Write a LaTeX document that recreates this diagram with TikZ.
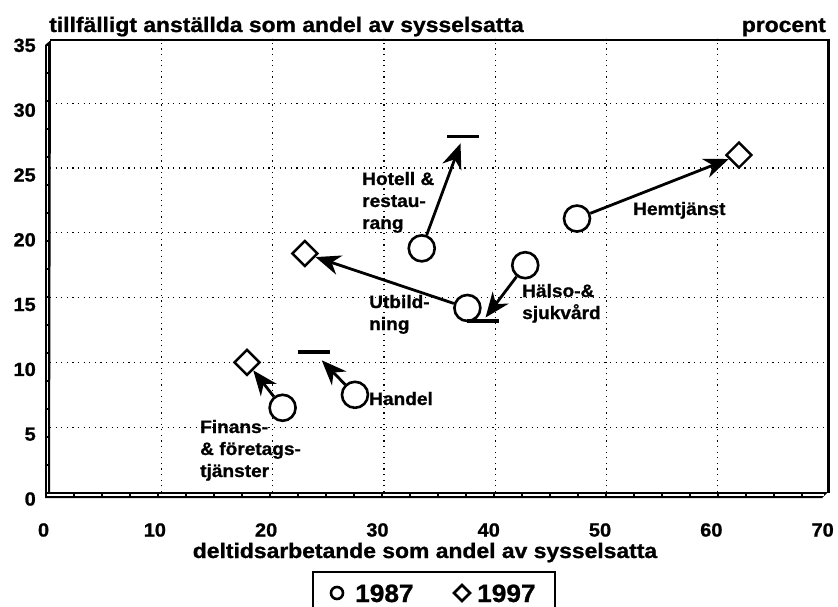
\documentclass[tikz,border=0pt]{standalone}
\usepackage{fontspec}
\setmainfont{Liberation Sans}[BoldFeatures={FakeBold=1}]
\usetikzlibrary{arrows.meta,shapes.geometric}
\begin{document}
\begin{tikzpicture}[x=1pt, y=1pt,
  yr87/.style={circle, draw, line width=2.6pt, fill=white, minimum size=26pt, inner sep=0pt},
  yr97/.style={diamond, draw, line width=2.4pt, fill=white, minimum size=26pt, inner sep=0pt},
  bar97/.style={rectangle, fill=black, minimum width=32pt, minimum height=3.2pt, inner sep=0pt},
  trend/.style={line width=2.8pt, -{Stealth[length=25pt, width=20pt, inset=8pt]}},
  lbl/.style={font=\bfseries\fontsize{18}{22}\selectfont, xscale=1.06, align=left, inner sep=0pt},
  tick/.style={font=\bfseries\fontsize{19}{22}\selectfont, xscale=1.05, inner sep=0pt},
  axtitle/.style={font=\bfseries\fontsize{21}{24}\selectfont, xscale=1.09, inner sep=0pt},
  gridline/.style={line width=1.2pt, dash pattern=on 1.2pt off 4.4pt}]
  \useasboundingbox (0,0) rectangle (838,606);

  % plot area, data units
  \begin{scope}[shift={(50,114)}, x=11.13pt, y=12.96pt]
    \foreach \gx in {10,20,...,60}
      \draw[gridline] (\gx,0) -- (\gx,35);
    \foreach \gy in {5,10,...,30}
      \draw[gridline] (0,\gy) -- (70,\gy);
    \foreach \gx in {0,10,...,70}
      \node[tick] (xt\gx) at (\gx-0.58,-2.93) {\gx};
    \foreach \gy in {0,5,...,35}
      \node[tick, anchor=east] (yt\gy) at (-1.26,\gy-0.54) {\gy};

    \node[yr87] (fin87) at (20.9,6.5) {};
    \node[yr97] (fin97) at (17.7,10.0) {};
    \node[yr87] (han87) at (27.4,7.5) {};
    \node[bar97] (han97) at (23.7,10.8) {};
    \node[yr87] (hot87) at (33.4,18.8) {};
    \node[bar97] (hot97) at (37.1,27.4) {};
    \node[yr87] (utb87) at (37.5,14.2) {};
    \node[yr97] (utb97) at (22.9,18.4) {};
    \node[yr87] (hal87) at (42.7,17.5) {};
    \node[bar97] (hal97) at (38.9,13.2) {};
    \node[yr87] (hem87) at (47.35,21.1) {};
    \node[yr97] (hem97) at (61.9,26.0) {};

    \draw[trend] (fin87) -- (fin97);
    \draw[trend, shorten >=9pt] (han87) -- (han97);
    \draw[trend, shorten >=5pt] (hot87) -- (hot97);
    \draw[trend] (utb87) -- (utb97);
    \draw[trend, shorten >=2pt] (hal87) -- (hal97);
    \draw[trend] (hem87) -- (hem97);
  \end{scope}

  % 3d walls and frame
  \fill (45,561) -- (51,566) -- (50,114) -- (828,114) -- (822,108) -- (45,108) -- cycle;
  \draw[white, line width=1.2pt, dash pattern=on 26pt off 2pt] (47.5,560) -- (47.5,111) -- (824,111);
  \draw[line width=2pt] (50,566) -- (829,566);
  \draw[line width=3pt] (828,567) -- (828,113);

  \node[lbl, anchor=base west] (hotlbl) at (362,377) {Hotell \&\\restau-\\rang};
  \node[lbl, anchor=base west] (utblbl) at (369,276) {Utbild-\\ning};
  \node[lbl, anchor=base west] (hallbl) at (522,287) {Hälso-\&\\sjukvård};
  \node[lbl, anchor=base west] (hemlbl) at (633,391) {Hemtjänst};
  \node[lbl, anchor=base west] (hanlbl) at (369,201) {Handel};
  \node[lbl, anchor=base west] (finlbl) at (200,129) {Finans-\\\& företags-\\tjänster};

  \node[axtitle, anchor=base west] (ytitle) at (49,574) {tillfälligt anställda som andel av sysselsatta};
  \node[axtitle, anchor=base east] (unit) at (826,574) {procent};
  \node[axtitle, anchor=base] (xtitle) at (425,48) {deltidsarbetande som andel av sysselsatta};

  % legend
  \draw[line width=1.5pt] (313,-5) -- (313,34) -- (555,34) -- (555,-5);
  \node[yr87, line width=2.6pt, minimum size=12pt] (key87) at (337,13) {};
  \node[tick, font=\bfseries\fontsize{25}{27}\selectfont, anchor=base west] (txt87) at (355,4) {1987};
  \node[yr97, line width=2.6pt, minimum size=17pt] (key97) at (462,13) {};
  \node[tick, font=\bfseries\fontsize{25}{27}\selectfont, anchor=base west] (txt97) at (477,4) {1997};
\end{tikzpicture}
\end{document}
